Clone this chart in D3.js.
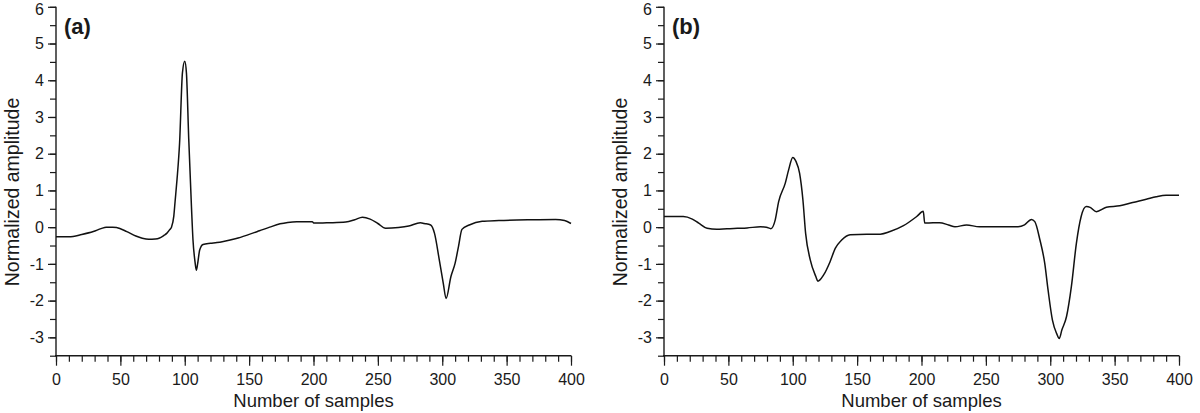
<!DOCTYPE html>
<html>
<head>
<meta charset="utf-8">
<script src="https://cdn.jsdelivr.net/npm/d3@7"></script>
<style>
  html, body { margin: 0; padding: 0; background: #fff; }
  svg { display: block; }
  text { font-family: "Liberation Sans", Arial, sans-serif; fill: #1a1a1a; }
</style>
</head>
<body>
<svg id="chart" width="1200" height="413"></svg>
<script>
// ---- data ----
const samplesA = [0,10,20,29,35,39,44,47,55,62,67,72,77,80,84,86,88,89.7,91.5,92.5,94,96,98.2,100,101.3,103.1,105.2,106.4,108,109,110,111.6,114.2,120,125,130,140,149,158,166,174,180,187,199,200.5,212,225,232,238,244,250,256,266,274,283,286,291,294,297.7,300.8,303,306.7,310,312.6,315.3,321,331,344,367,388,395,400];
const amplitudeA = [-0.26,-0.26,-0.2,-0.12,-0.04,0.0,0.0,-0.01,-0.12,-0.24,-0.3,-0.33,-0.32,-0.3,-0.22,-0.17,-0.08,0.0,0.3,0.7,1.3,2.3,4.2,4.52,4.2,2.4,0.56,-0.35,-0.95,-1.17,-1.0,-0.62,-0.47,-0.44,-0.42,-0.39,-0.31,-0.21,-0.1,0.0,0.09,0.13,0.15,0.15,0.11,0.12,0.14,0.2,0.27,0.22,0.1,-0.03,-0.01,0.03,0.12,0.1,0.06,-0.17,-0.89,-1.53,-1.94,-1.35,-0.98,-0.53,-0.06,0.06,0.16,0.18,0.2,0.21,0.18,0.1];

const samplesB = [0,2.5,15,22,27,33.5,41,49,57,64.5,75,79.5,83,86.4,89,94.2,96.8,100,102.5,105.3,107.9,110,113.6,118,119.5,124,129,133,138,144.6,157.5,168,175.6,186,196.3,201.4,202.5,209,214,221,226,235,245,275,280,285.4,288,292,295.7,298.3,301.7,305,307,309,312.6,316.4,320.3,324,328,331,335.8,343.6,354,364,374.6,382.3,390,400];
const amplitudeB = [0.29,0.29,0.29,0.22,0.11,-0.03,-0.06,-0.04,-0.03,-0.02,0.01,0.0,-0.04,0.2,0.69,1.2,1.56,1.9,1.79,1.47,0.74,-0.17,-0.89,-1.35,-1.47,-1.3,-0.94,-0.58,-0.35,-0.21,-0.19,-0.19,-0.12,0.04,0.29,0.43,0.11,0.12,0.12,0.06,0.01,0.06,0.01,0.01,0.06,0.21,0.15,-0.35,-0.98,-1.71,-2.53,-2.9,-3.03,-2.8,-2.44,-1.62,-0.44,0.29,0.56,0.54,0.42,0.54,0.58,0.67,0.76,0.83,0.87,0.87];

const xMajorTicks = [0,50,100,150,200,250,300,350,400];
const xMinorTicks = d3.range(0, 401, 10);
const yMajorTicks = [-3,-2,-1,0,1,2,3,4,5,6];
const yMinorTicks = d3.range(-3.5, 6.01, 0.5);
const panelLabels = ["(a)", "(b)"];
const xTitle = "Number of samples";
const yTitle = "Normalized amplitude";

// ---- layout ----
const svg = d3.select("#chart");
const panels = [
  { left: 56, right: 571, xs: samplesA, ys: amplitudeA, label: panelLabels[0] },
  { left: 664, right: 1179, xs: samplesB, ys: amplitudeB, label: panelLabels[1] }
];
const plotTop = 6.8, plotBottom = 355.7;
const fmt = d => String(d);

panels.forEach(p => {
  const x = d3.scaleLinear().domain([0, 400]).range([p.left, p.right]);
  const y = d3.scaleLinear().domain([-3.5, 6]).range([plotBottom, plotTop]);
  const g = svg.append("g");

  // minor ticks
  const xMinor = g.append("g").attr("transform", `translate(0,${plotBottom})`)
    .call(d3.axisBottom(x).tickValues(xMinorTicks).tickSize(6).tickFormat(""));
  const yMinor = g.append("g").attr("transform", `translate(${p.left},0)`)
    .call(d3.axisLeft(y).tickValues(yMinorTicks).tickSize(6).tickFormat(""));
  [xMinor, yMinor].forEach(a => a.select(".domain").remove());

  // major
  const xAx = g.append("g").attr("transform", `translate(0,${plotBottom})`)
    .call(d3.axisBottom(x).tickValues(xMajorTicks).tickSize(10).tickPadding(8).tickFormat(fmt));
  const yAx = g.append("g").attr("transform", `translate(${p.left},0)`)
    .call(d3.axisLeft(y).tickValues(yMajorTicks).tickSize(8).tickPadding(4).tickFormat(fmt));
  [xAx, yAx].forEach(a => {
    a.select(".domain").remove();
    a.selectAll("text").style("font-size", "16px").attr("fill", "#1a1a1a");
  });
  // keep the top label inside the picture
  yAx.selectAll(".tick").filter(d => d === 6).select("text").attr("dy", "0.45em");
  g.selectAll(".tick line").attr("stroke", "#1a1a1a").attr("stroke-width", 1.2);

  // axis lines
  g.append("line").attr("x1", p.left - 1).attr("x2", x(400)).attr("y1", plotBottom).attr("y2", plotBottom)
    .attr("stroke", "#1a1a1a").attr("stroke-width", 1.4);
  g.append("line").attr("x1", p.left).attr("x2", p.left).attr("y1", y(6)).attr("y2", plotBottom)
    .attr("stroke", "#1a1a1a").attr("stroke-width", 1.4);

  // series
  const pts = p.xs.map((v, i) => [v, p.ys[i]]);
  g.append("path").datum(pts)
    .attr("fill", "none").attr("stroke", "#111").attr("stroke-width", 1.5)
    .attr("stroke-linejoin", "round")
    .attr("d", d3.line().x(d => x(d[0])).y(d => y(d[1])).curve(d3.curveMonotoneX));

  // titles
  g.append("text").attr("x", (p.left + p.right) / 2).attr("y", 407)
    .attr("text-anchor", "middle").style("font-size", "18.5px").text(xTitle);
  g.append("text").attr("transform", `translate(${p.left - 37},192) rotate(-90)`)
    .attr("text-anchor", "middle").style("font-size", "19.5px").text(yTitle);
  g.append("text").attr("x", p.left + 8).attr("y", 34)
    .style("font-size", "22px").style("font-weight", "bold").text(p.label);
});
</script>
</body>
</html>
